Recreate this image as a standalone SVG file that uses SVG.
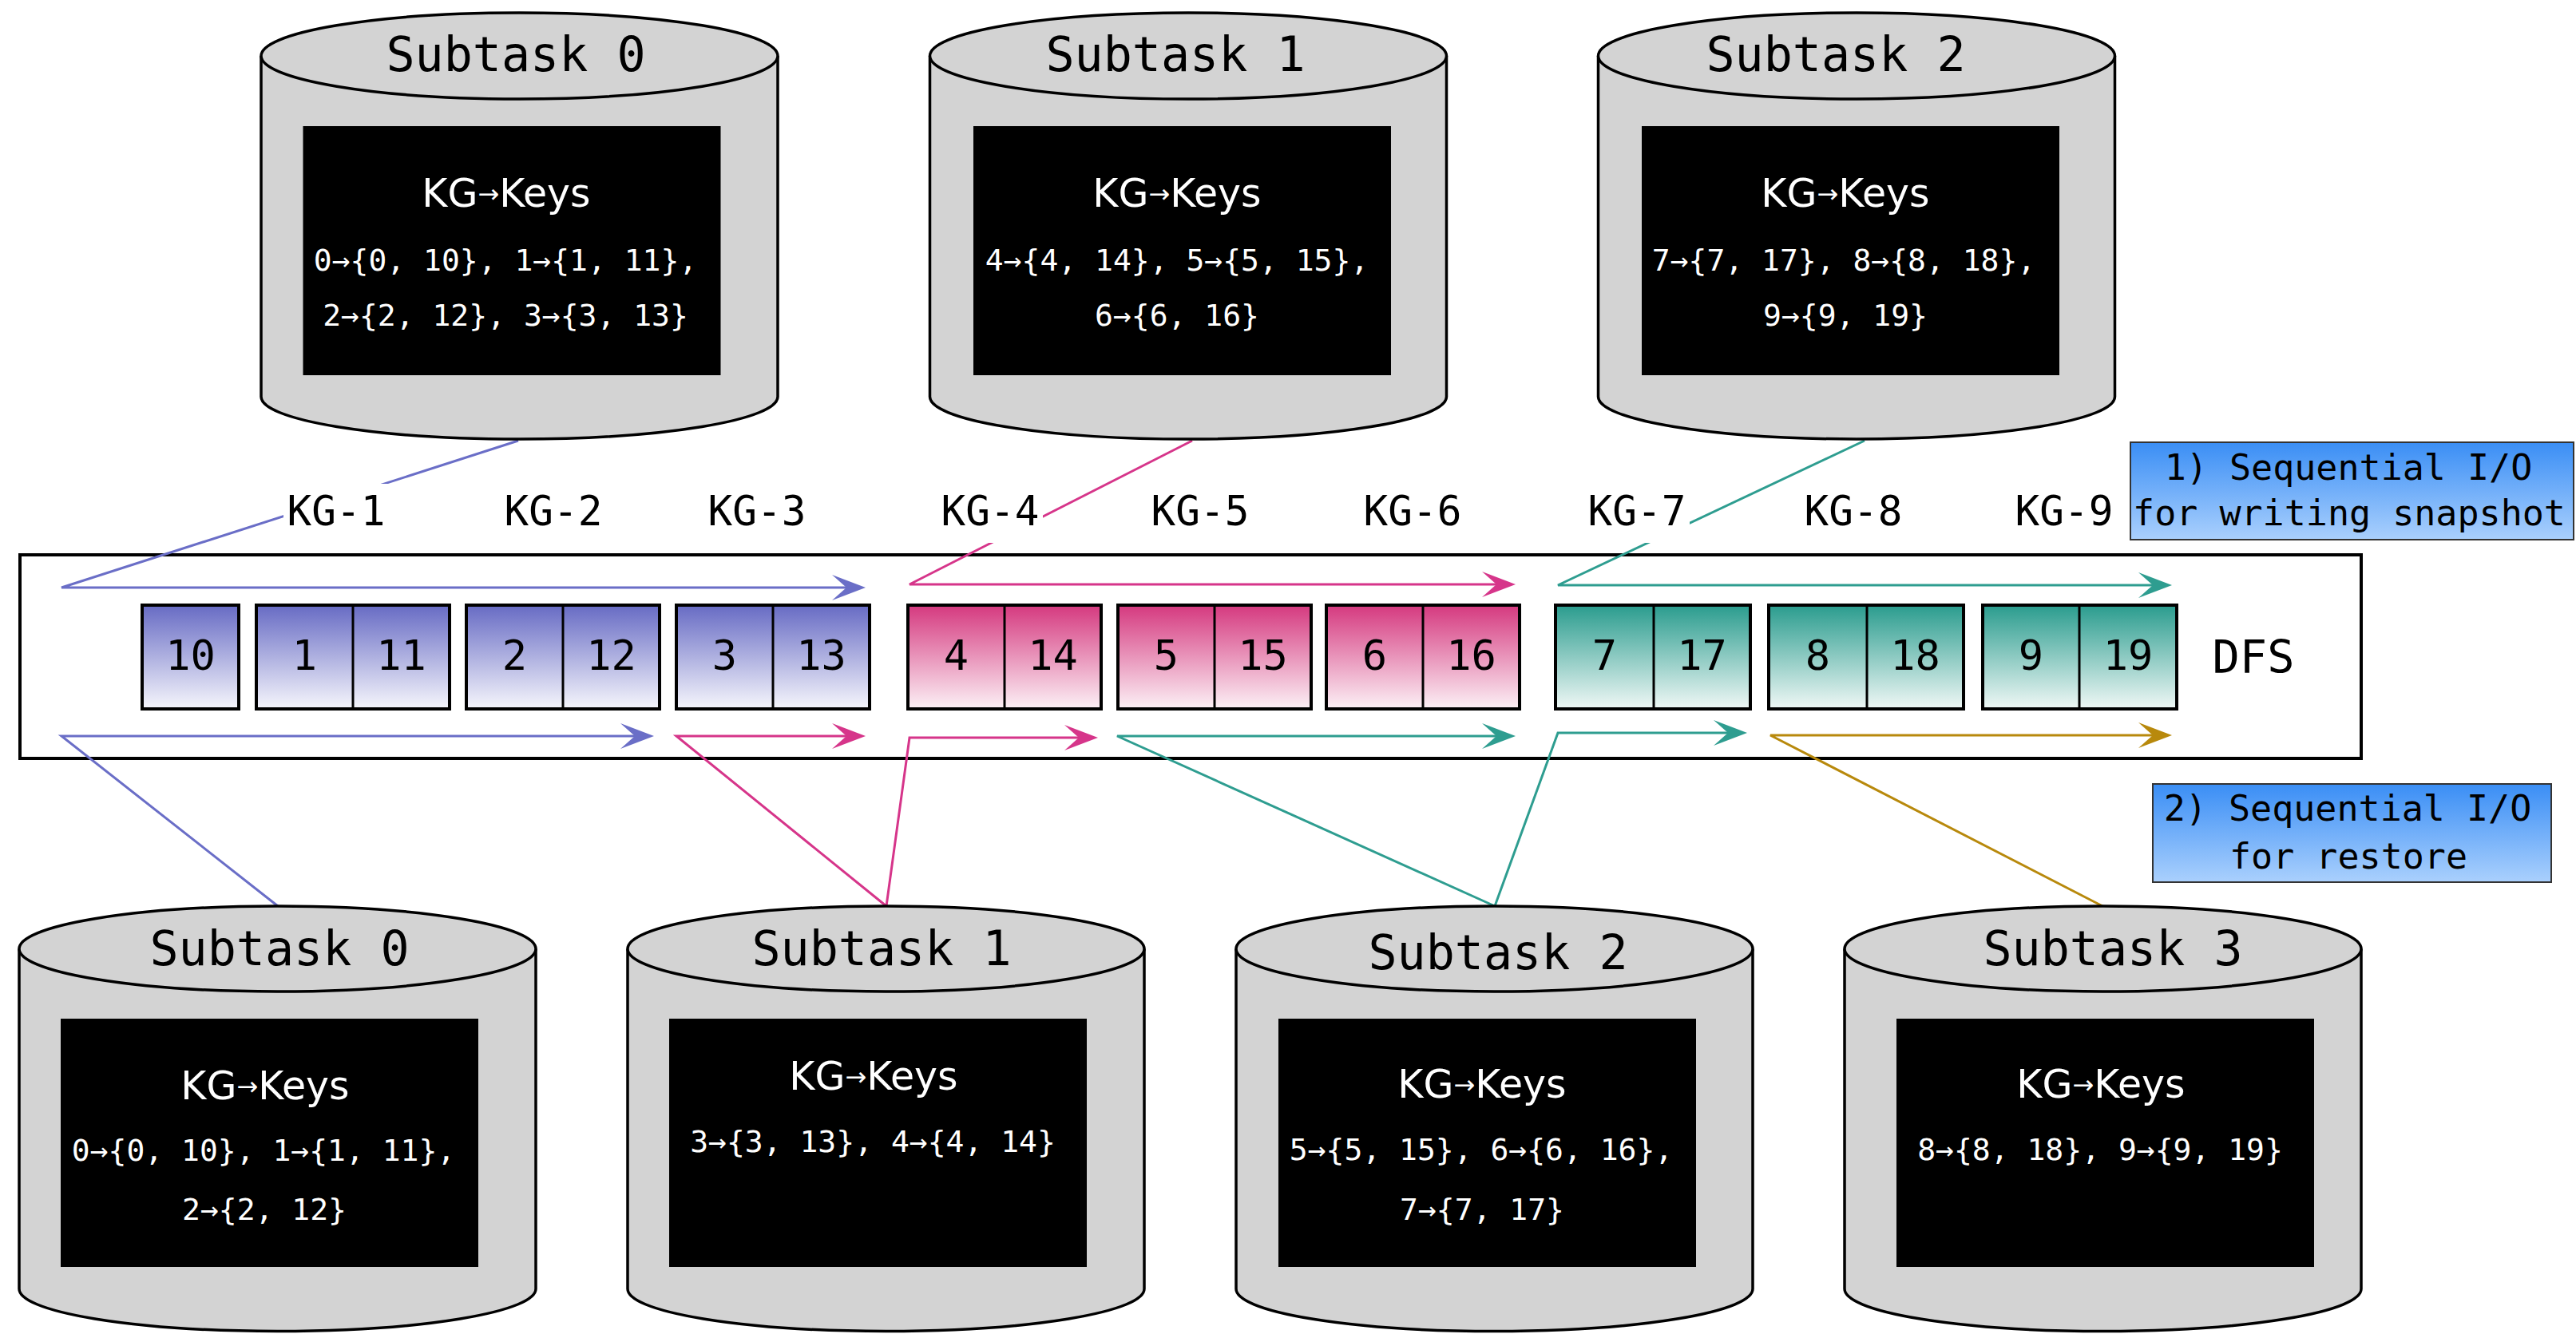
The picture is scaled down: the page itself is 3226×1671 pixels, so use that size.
<svg xmlns="http://www.w3.org/2000/svg" width="3226" height="1671" viewBox="0 0 3226 1671">
<defs>
<style>
.mono{font-family:"DejaVu Sans Mono","Liberation Mono",monospace;}
.sub{font-size:60px;text-anchor:middle;fill:#000;}
.kg{font-size:51px;text-anchor:middle;fill:#000;}
.num{font-size:52px;text-anchor:middle;fill:#000;}
.kk{font-family:"DejaVu Sans","Liberation Sans",sans-serif;font-size:49px;text-anchor:middle;fill:#fff;}
.map{font-size:38px;text-anchor:middle;fill:#fff;}
.note{font-size:45px;text-anchor:middle;fill:#000;}
.cyl{fill:#d3d3d3;stroke:#000;stroke-width:3.5;}
.bb{fill:#000;}
.blk{stroke:#000;stroke-width:4;}
.div{stroke:#000;stroke-width:3;}
.con{fill:none;stroke-width:3;stroke-linejoin:miter;}
.lbg{fill:#fff;}
</style>
<linearGradient id="gBlue" x1="0" y1="0" x2="0" y2="1"><stop offset="0" stop-color="#676bc4"/><stop offset="1" stop-color="#f6f6fc"/></linearGradient>
<linearGradient id="gPink" x1="0" y1="0" x2="0" y2="1"><stop offset="0" stop-color="#d5397f"/><stop offset="1" stop-color="#fcf1f6"/></linearGradient>
<linearGradient id="gTeal" x1="0" y1="0" x2="0" y2="1"><stop offset="0" stop-color="#2a9c8e"/><stop offset="1" stop-color="#f0f8f6"/></linearGradient>
<linearGradient id="gNote" x1="0" y1="0" x2="0" y2="1"><stop offset="0" stop-color="#3a8ef5"/><stop offset="1" stop-color="#aad0fd"/></linearGradient>
<marker id="ahBlue" viewBox="-24 -18 48 36" markerWidth="48" markerHeight="36" refX="0" refY="0" orient="auto" markerUnits="userSpaceOnUse"><path d="M22,0 L-20,-16 L-2,0 L-20,16 Z" fill="#6a6ec7"/></marker>
<marker id="ahPink" viewBox="-24 -18 48 36" markerWidth="48" markerHeight="36" refX="0" refY="0" orient="auto" markerUnits="userSpaceOnUse"><path d="M22,0 L-20,-16 L-2,0 L-20,16 Z" fill="#d6358a"/></marker>
<marker id="ahTeal" viewBox="-24 -18 48 36" markerWidth="48" markerHeight="36" refX="0" refY="0" orient="auto" markerUnits="userSpaceOnUse"><path d="M22,0 L-20,-16 L-2,0 L-20,16 Z" fill="#2e9d90"/></marker>
<marker id="ahGold" viewBox="-24 -18 48 36" markerWidth="48" markerHeight="36" refX="0" refY="0" orient="auto" markerUnits="userSpaceOnUse"><path d="M22,0 L-20,-16 L-2,0 L-20,16 Z" fill="#b8890c"/></marker>
</defs>
<rect x="0" y="0" width="3226" height="1671" fill="#fff"/>

<g id="dfs">
<rect x="25" y="695" width="2932" height="255" fill="#fff" stroke="#000" stroke-width="4"/>
<text class="mono" x="2822" y="843" font-size="57" text-anchor="middle">DFS</text>
</g>

<g id="blocks">
<g id="blk-10"><rect class="blk" x="178" y="758" width="121" height="130" fill="url(#gBlue)"/><text class="mono num" x="238.5" y="839">10</text></g>
<g id="blk-1"><rect class="blk" x="321" y="758" width="242" height="130" fill="url(#gBlue)"/><line class="div" x1="442" y1="758" x2="442" y2="888"/><text class="mono num" x="381.5" y="839">1</text><text class="mono num" x="502.5" y="839">11</text></g>
<g id="blk-2"><rect class="blk" x="584" y="758" width="242" height="130" fill="url(#gBlue)"/><line class="div" x1="705" y1="758" x2="705" y2="888"/><text class="mono num" x="644.5" y="839">2</text><text class="mono num" x="765.5" y="839">12</text></g>
<g id="blk-3"><rect class="blk" x="847" y="758" width="242" height="130" fill="url(#gBlue)"/><line class="div" x1="968" y1="758" x2="968" y2="888"/><text class="mono num" x="907.5" y="839">3</text><text class="mono num" x="1028.5" y="839">13</text></g>
<g id="blk-4"><rect class="blk" x="1137" y="758" width="242" height="130" fill="url(#gPink)"/><line class="div" x1="1258" y1="758" x2="1258" y2="888"/><text class="mono num" x="1197.5" y="839">4</text><text class="mono num" x="1318.5" y="839">14</text></g>
<g id="blk-5"><rect class="blk" x="1400" y="758" width="242" height="130" fill="url(#gPink)"/><line class="div" x1="1521" y1="758" x2="1521" y2="888"/><text class="mono num" x="1460.5" y="839">5</text><text class="mono num" x="1581.5" y="839">15</text></g>
<g id="blk-6"><rect class="blk" x="1661" y="758" width="242" height="130" fill="url(#gPink)"/><line class="div" x1="1782" y1="758" x2="1782" y2="888"/><text class="mono num" x="1721.5" y="839">6</text><text class="mono num" x="1842.5" y="839">16</text></g>
<g id="blk-7"><rect class="blk" x="1948" y="758" width="244" height="130" fill="url(#gTeal)"/><line class="div" x1="2071" y1="758" x2="2071" y2="888"/><text class="mono num" x="2009.5" y="839">7</text><text class="mono num" x="2131.5" y="839">17</text></g>
<g id="blk-8"><rect class="blk" x="2215" y="758" width="244" height="130" fill="url(#gTeal)"/><line class="div" x1="2338" y1="758" x2="2338" y2="888"/><text class="mono num" x="2276.5" y="839">8</text><text class="mono num" x="2398.5" y="839">18</text></g>
<g id="blk-9"><rect class="blk" x="2483" y="758" width="243" height="130" fill="url(#gTeal)"/><line class="div" x1="2604" y1="758" x2="2604" y2="888"/><text class="mono num" x="2543.5" y="839">9</text><text class="mono num" x="2665" y="839">19</text></g>
</g>

<g id="connectors">
<path class="con" stroke="#6a6ec7" d="M649,552 L77,736 L1062,736" marker-end="url(#ahBlue)"/>
<path class="con" stroke="#d6358a" d="M1493,552 L1139,732 L1876,732" marker-end="url(#ahPink)"/>
<path class="con" stroke="#2e9d90" d="M2335,552 L1951,733 L2698,733" marker-end="url(#ahTeal)"/>
<path class="con" stroke="#6a6ec7" d="M348,1135 L77,922 L797,922" marker-end="url(#ahBlue)"/>
<path class="con" stroke="#d6358a" d="M1110,1135 L847,922 L1062,922" marker-end="url(#ahPink)"/>
<path class="con" stroke="#d6358a" d="M1110,1135 L1139,924 L1353,924" marker-end="url(#ahPink)"/>
<path class="con" stroke="#2e9d90" d="M1872,1135 L1399,922 L1876,922" marker-end="url(#ahTeal)"/>
<path class="con" stroke="#2e9d90" d="M1872,1135 L1951,918 L2166,918" marker-end="url(#ahTeal)"/>
<path class="con" stroke="#b8890c" d="M2635,1136 L2217,921 L2698,921" marker-end="url(#ahGold)"/>
</g>

<g id="kg-labels">
<g id="kg-1"><rect class="lbg" x="355" y="606" width="132" height="74"/><text class="mono kg" x="421" y="658">KG-1</text></g>
<g id="kg-2"><rect class="lbg" x="627" y="606" width="132" height="74"/><text class="mono kg" x="693" y="658">KG-2</text></g>
<g id="kg-3"><rect class="lbg" x="882" y="606" width="132" height="74"/><text class="mono kg" x="948" y="658">KG-3</text></g>
<g id="kg-4"><rect class="lbg" x="1174" y="606" width="132" height="74"/><text class="mono kg" x="1240" y="658">KG-4</text></g>
<g id="kg-5"><rect class="lbg" x="1437" y="606" width="132" height="74"/><text class="mono kg" x="1503" y="658">KG-5</text></g>
<g id="kg-6"><rect class="lbg" x="1703" y="606" width="132" height="74"/><text class="mono kg" x="1769" y="658">KG-6</text></g>
<g id="kg-7"><rect class="lbg" x="1984" y="606" width="132" height="74"/><text class="mono kg" x="2050" y="658">KG-7</text></g>
<g id="kg-8"><rect class="lbg" x="2255" y="606" width="132" height="74"/><text class="mono kg" x="2321" y="658">KG-8</text></g>
<g id="kg-9"><rect class="lbg" x="2519" y="606" width="132" height="74"/><text class="mono kg" x="2585" y="658">KG-9</text></g>
</g>

<g id="top-subtask-0">
<path class="cyl" d="M327,70 L327,497 A323.5,53 0 0 0 974,497 L974,70"/>
<ellipse class="cyl" cx="650.5" cy="70" rx="323.5" ry="54"/>
<text class="mono sub" x="646" y="89">Subtask 0</text>
<rect class="bb" x="379.5" y="158" width="523" height="312"/>
<text class="kk" x="634" y="259">KG<tspan font-size="32" dy="-5">→</tspan><tspan dy="5">Keys</tspan></text>
<text class="mono map" x="633" y="339">0→{0, 10}, 1→{1, 11},</text>
<text class="mono map" x="633" y="408">2→{2, 12}, 3→{3, 13}</text>
</g>

<g id="top-subtask-1">
<path class="cyl" d="M1164.5,70 L1164.5,497 A323.5,53 0 0 0 1811.5,497 L1811.5,70"/>
<ellipse class="cyl" cx="1488" cy="70" rx="323.5" ry="54"/>
<text class="mono sub" x="1472" y="89">Subtask 1</text>
<rect class="bb" x="1219" y="158" width="523" height="312"/>
<text class="kk" x="1474" y="259">KG<tspan font-size="32" dy="-5">→</tspan><tspan dy="5">Keys</tspan></text>
<text class="mono map" x="1474" y="339">4→{4, 14}, 5→{5, 15},</text>
<text class="mono map" x="1474" y="408">6→{6, 16}</text>
</g>

<g id="top-subtask-2">
<path class="cyl" d="M2001.5,70 L2001.5,497 A323.5,53 0 0 0 2648.5,497 L2648.5,70"/>
<ellipse class="cyl" cx="2325" cy="70" rx="323.5" ry="54"/>
<text class="mono sub" x="2299" y="89">Subtask 2</text>
<rect class="bb" x="2056" y="158" width="523" height="312"/>
<text class="kk" x="2311" y="259">KG<tspan font-size="32" dy="-5">→</tspan><tspan dy="5">Keys</tspan></text>
<text class="mono map" x="2309" y="339">7→{7, 17}, 8→{8, 18},</text>
<text class="mono map" x="2311" y="408">9→{9, 19}</text>
</g>

<g id="bottom-subtask-0">
<path class="cyl" d="M24,1188.5 L24,1614.5 A323.5,53 0 0 0 671,1614.5 L671,1188.5"/>
<ellipse class="cyl" cx="347.5" cy="1188.5" rx="323.5" ry="53.5"/>
<text class="mono sub" x="350" y="1209">Subtask 0</text>
<rect class="bb" x="76" y="1276" width="523" height="311"/>
<text class="kk" x="332" y="1377">KG<tspan font-size="32" dy="-5">→</tspan><tspan dy="5">Keys</tspan></text>
<text class="mono map" x="330" y="1454">0→{0, 10}, 1→{1, 11},</text>
<text class="mono map" x="331" y="1528">2→{2, 12}</text>
</g>

<g id="bottom-subtask-1">
<path class="cyl" d="M786,1188.5 L786,1614.5 A323.5,53 0 0 0 1433,1614.5 L1433,1188.5"/>
<ellipse class="cyl" cx="1109.5" cy="1188.5" rx="323.5" ry="53.5"/>
<text class="mono sub" x="1104" y="1209">Subtask 1</text>
<rect class="bb" x="838" y="1276" width="523" height="311"/>
<text class="kk" x="1094" y="1365">KG<tspan font-size="32" dy="-5">→</tspan><tspan dy="5">Keys</tspan></text>
<text class="mono map" x="1093" y="1443">3→{3, 13}, 4→{4, 14}</text>
</g>

<g id="bottom-subtask-2">
<path class="cyl" d="M1548,1188.5 L1548,1614.5 A323.5,53 0 0 0 2195,1614.5 L2195,1188.5"/>
<ellipse class="cyl" cx="1871.5" cy="1188.5" rx="323.5" ry="53.5"/>
<text class="mono sub" x="1876" y="1214">Subtask 2</text>
<rect class="bb" x="1601" y="1276" width="523" height="311"/>
<text class="kk" x="1856" y="1375">KG<tspan font-size="32" dy="-5">→</tspan><tspan dy="5">Keys</tspan></text>
<text class="mono map" x="1855" y="1453">5→{5, 15}, 6→{6, 16},</text>
<text class="mono map" x="1856" y="1528">7→{7, 17}</text>
</g>

<g id="bottom-subtask-3">
<path class="cyl" d="M2310,1188.5 L2310,1614.5 A323.5,53 0 0 0 2957,1614.5 L2957,1188.5"/>
<ellipse class="cyl" cx="2633.5" cy="1188.5" rx="323.5" ry="53.5"/>
<text class="mono sub" x="2646" y="1209">Subtask 3</text>
<rect class="bb" x="2375" y="1276" width="523" height="311"/>
<text class="kk" x="2631" y="1375">KG<tspan font-size="32" dy="-5">→</tspan><tspan dy="5">Keys</tspan></text>
<text class="mono map" x="2630" y="1453">8→{8, 18}, 9→{9, 19}</text>
</g>

<g id="note-write">
<rect x="2668" y="554" width="555" height="122" fill="url(#gNote)" stroke="#333" stroke-width="2"/>
<text class="mono note" x="2941" y="601">1) Sequential I/O</text>
<text class="mono note" x="2942" y="658">for writing snapshot</text>
</g>

<g id="note-restore">
<rect x="2696" y="982" width="499" height="123" fill="url(#gNote)" stroke="#333" stroke-width="2"/>
<text class="mono note" x="2940" y="1028">2) Sequential I/O</text>
<text class="mono note" x="2941" y="1088">for restore</text>
</g>
</svg>
